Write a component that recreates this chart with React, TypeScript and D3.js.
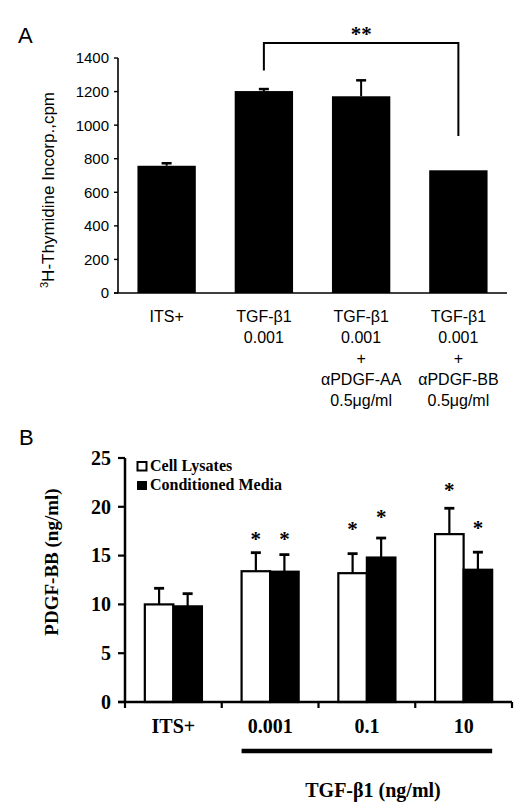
import React from "react";
import * as d3 from "d3";

// ---------- Panel A data ----------
const aCategories = ["ITS+", "TGF-b1", "TGF-b1+aAA", "TGF-b1+aBB"];
const aLabelLines = [
  ["ITS+"],
  ["TGF-β1", "0.001"],
  ["TGF-β1", "0.001", "+", "αPDGF-AA", "0.5μg/ml"],
  ["TGF-β1", "0.001", "+", "αPDGF-BB", "0.5μg/ml"],
];
const aValues = [758, 1203, 1172, 731];
const aErrors = [15, 12, 95, 0];
const aTicks = [0, 200, 400, 600, 800, 1000, 1200, 1400];
const aBracketIdx = [1, 3];
const aBracketLevels = [1325, 1490, 935]; // left end, top, right end

// ---------- Panel B data ----------
const bCategories = ["ITS+", "0.001", "0.1", "10"];
const bSeries = ["Cell Lysates", "Conditioned Media"];
const bLysates = [10.0, 13.4, 13.2, 17.2];
const bLysatesErr = [1.65, 1.9, 2.0, 2.65];
const bMedia = [9.8, 13.35, 14.8, 13.55];
const bMediaErr = [1.3, 1.75, 2.0, 1.8];
const bLysatesStar = [null, 17.0, 18.0, 22.0];
const bMediaStar = [null, 17.0, 19.3, 18.1];
const bTicks = [0, 5, 10, 15, 20, 25];

const SANS = "'Liberation Sans', Arial, sans-serif";
const SERIF = "'Liberation Serif', 'Times New Roman', serif";

export default function App() {
  // Panel A scales
  const xA = d3.scaleBand<string>().domain(aCategories).range([118, 507]).paddingInner(0.4).paddingOuter(0.2);
  const yA = d3.scaleLinear().domain([0, 1400]).range([293, 58]);
  const cA = (i: number) => (xA(aCategories[i]) as number) + xA.bandwidth() / 2;

  // Panel B scales
  const xB = d3.scaleBand<string>().domain(bCategories).range([125, 512]).paddingInner(0.41).paddingOuter(0.205);
  const xSub = d3.scaleBand<string>().domain(bSeries).range([0, xB.bandwidth()]);
  const yB = d3.scaleLinear().domain([0, 25]).range([702, 458]);
  const bBoundaries = d3.range(bCategories.length + 1).map((i) => xB.range()[0] + i * xB.step());

  const seriesB = [
    { name: bSeries[0], values: bLysates, errs: bLysatesErr, stars: bLysatesStar, fill: "#fff" },
    { name: bSeries[1], values: bMedia, errs: bMediaErr, stars: bMediaStar, fill: "#000" },
  ];

  const bx1 = cA(aBracketIdx[0]);
  const bx2 = cA(aBracketIdx[1]);

  return (
    <svg width={525} height={809} style={{ position: "absolute", left: 0, top: 0, background: "#fff" }}>
      {/* ================= Panel A ================= */}
      <text x={18} y={43} fontFamily={SANS} fontSize={22}>A</text>

      {aValues.map((v, i) => (
        <rect key={"ab" + i} x={xA(aCategories[i])} y={yA(v)} width={xA.bandwidth()} height={yA(0) - yA(v)} fill="#000" />
      ))}
      {aValues.map((v, i) =>
        aErrors[i] > 0 ? (
          <g key={"ae" + i} stroke="#000" strokeWidth={2}>
            <line x1={cA(i)} x2={cA(i)} y1={yA(v)} y2={yA(v + aErrors[i])} />
            <line x1={cA(i) - 5} x2={cA(i) + 5} y1={yA(v + aErrors[i])} y2={yA(v + aErrors[i])} strokeWidth={2.5} />
          </g>
        ) : null
      )}

      {/* axes A */}
      <line x1={118} x2={118} y1={yA(1400)} y2={yA(0)} stroke="#000" strokeWidth={1.6} />
      <line x1={114} x2={507} y1={yA(0)} y2={yA(0)} stroke="#000" strokeWidth={1.6} />
      {aTicks.map((t) => (
        <g key={"at" + t}>
          <line x1={114} x2={118} y1={yA(t)} y2={yA(t)} stroke="#000" strokeWidth={1.4} />
          <text x={109} y={yA(t)} dy="0.36em" textAnchor="end" fontFamily={SANS} fontSize={15}>{t}</text>
        </g>
      ))}
      <text transform={`translate(54,190) rotate(-90)`} textAnchor="middle" fontFamily={SANS} fontSize={17}>
        <tspan fontSize={11} dy={-6}>3</tspan>
        <tspan dy={6}>H-Thymidine Incorp.,cpm</tspan>
      </text>
      {aLabelLines.map((lines, i) => (
        <text key={"al" + i} textAnchor="middle" fontFamily={SANS} fontSize={16}>
          {lines.map((l, j) => (
            <tspan key={j} x={cA(i)} y={322 + j * 21}>{l}</tspan>
          ))}
        </text>
      ))}

      {/* significance bracket */}
      <path
        d={`M${bx1},${yA(aBracketLevels[0])}V${yA(aBracketLevels[1])}H${bx2}V${yA(aBracketLevels[2])}`}
        fill="none" stroke="#000" strokeWidth={2}
      />
      <text x={(bx1 + bx2) / 2} y={41} textAnchor="middle" fontFamily={SERIF} fontWeight="bold" fontSize={21}>**</text>

      {/* ================= Panel B ================= */}
      <text x={19} y={445} fontFamily={SANS} fontSize={22}>B</text>

      {seriesB.map((s) =>
        s.values.map((v, i) => {
          const x0 = (xB(bCategories[i]) as number) + (xSub(s.name) as number);
          const w = xSub.bandwidth();
          return (
            <rect key={s.name + i} x={x0} y={yB(v)} width={w} height={yB(0) - yB(v)} fill={s.fill} stroke="#000" strokeWidth={2.2} />
          );
        })
      )}
      {seriesB.map((s) =>
        s.values.map((v, i) => {
          const cx = (xB(bCategories[i]) as number) + (xSub(s.name) as number) + xSub.bandwidth() / 2;
          const top = yB(v + s.errs[i]);
          const star = s.stars[i];
          return (
            <g key={"be" + s.name + i}>
              <line x1={cx} x2={cx} y1={yB(v)} y2={top} stroke="#000" strokeWidth={2.2} />
              <line x1={cx - 5} x2={cx + 5} y1={top} y2={top} stroke="#000" strokeWidth={2.8} />
              {star != null ? (
                <text x={cx} y={yB(star) + 10} textAnchor="middle" fontFamily={SERIF} fontWeight="bold" fontSize={21}>*</text>
              ) : null}
            </g>
          );
        })
      )}

      {/* axes B */}
      <line x1={125} x2={125} y1={yB(25)} y2={yB(0)} stroke="#000" strokeWidth={2.5} />
      <line x1={118} x2={512} y1={yB(0)} y2={yB(0)} stroke="#000" strokeWidth={2.5} />
      {bTicks.map((t) => (
        <g key={"bt" + t}>
          <line x1={118} x2={125} y1={yB(t)} y2={yB(t)} stroke="#000" strokeWidth={2.2} />
          <text x={111} y={yB(t)} dy="0.34em" textAnchor="end" fontFamily={SERIF} fontWeight="bold" fontSize={20}>{t}</text>
        </g>
      ))}
      {bBoundaries.map((bx, i) => (
        <line key={"bxt" + i} x1={bx} x2={bx} y1={yB(0)} y2={yB(0) + 6} stroke="#000" strokeWidth={2.2} />
      ))}
      {bCategories.map((c) => (
        <text key={"bl" + c} x={(xB(c) as number) + xB.bandwidth() / 2} y={733} textAnchor="middle" fontFamily={SERIF} fontWeight="bold" fontSize={20}>{c}</text>
      ))}
      <line
        x1={xB(bCategories[1]) as number}
        x2={(xB(bCategories[3]) as number) + xB.bandwidth()}
        y1={751} y2={751} stroke="#000" strokeWidth={4.5}
      />
      <text x={373} y={797} textAnchor="middle" fontFamily={SERIF} fontWeight="bold" fontSize={20}>TGF-β1 (ng/ml)</text>
      <text transform={`translate(58,562) rotate(-90)`} textAnchor="middle" fontFamily={SERIF} fontWeight="bold" fontSize={19}>PDGF-BB (ng/ml)</text>

      {/* legend */}
      <rect x={137.5} y={462} width={9} height={8.5} fill="#fff" stroke="#000" strokeWidth={2} />
      <text x={150} y={471} fontFamily={SERIF} fontWeight="bold" fontSize={16}>{bSeries[0]}</text>
      <rect x={137} y={481} width={10} height={9} fill="#000" />
      <text x={150} y={490} fontFamily={SERIF} fontWeight="bold" fontSize={16}>{bSeries[1]}</text>
    </svg>
  );
}
